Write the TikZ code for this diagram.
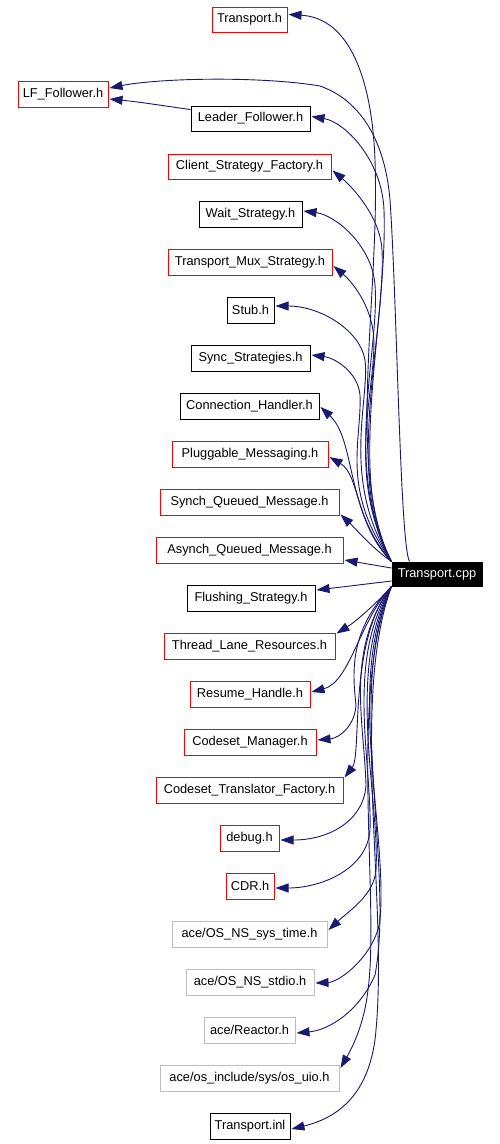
\documentclass[tikz,border=0pt]{standalone}
\usepackage{fontspec}
\setmainfont{Liberation Sans}
\usetikzlibrary{arrows.meta,calc}
\definecolor{edgeblue}{HTML}{191970}
\definecolor{boxred}{HTML}{FF0000}
\definecolor{boxgray}{HTML}{BFBFBF}
\begin{document}
\begin{tikzpicture}[x=1pt,y=-1pt,
  hdr/.style={draw=boxred, line width=1pt, fill=white, inner sep=0pt,
    minimum height=26pt, font=\fontsize{12.8}{14}\selectfont, text=black},
  exthdr/.style={hdr, draw=boxgray},
  plainhdr/.style={hdr, draw=black},
  mainbox/.style={hdr, draw=black, fill=black, text=white, minimum height=24pt},
  lnk/.style={draw=edgeblue, line width=0.9pt, -{Triangle[length=13pt,width=9pt]}}]
\useasboundingbox[fill=white] (0,0) rectangle (499,1144);

\node[hdr, minimum width=75, minimum height=25] (th) at (249.5,19.5) {Transport.h};
\node[hdr, minimum width=90] (lf) at (63,94) {LF\_Follower.h};
\node[plainhdr, minimum width=119, minimum height=25] (ld) at (250.5,118.5) {Leader\_Follower.h};
\node[hdr, minimum width=163, minimum height=25] (csf) at (249.5,166.5) {Client\_Strategy\_Factory.h};
\node[plainhdr, minimum width=103] (ws) at (250.5,214) {Wait\_Strategy.h};
\node[hdr, minimum width=164] (tms) at (250,262) {Transport\_Mux\_Strategy.h};
\node[plainhdr, minimum width=47] (stub) at (250.5,310) {Stub.h};
\node[plainhdr, minimum width=119] (ss) at (250.5,358) {Sync\_Strategies.h};
\node[plainhdr, minimum width=139] (ch) at (249.5,406) {Connection\_Handler.h};
\node[hdr, minimum width=156] (pm) at (250,454) {Pluggable\_Messaging.h};
\node[hdr, minimum width=179] (sqm) at (249.5,502) {Synch\_Queued\_Message.h};
\node[hdr, minimum width=187] (aqm) at (249.5,550) {Asynch\_Queued\_Message.h};
\node[plainhdr, minimum width=128] (fs) at (251,598) {Flushing\_Strategy.h};
\node[hdr, minimum width=171] (tlr) at (249.5,646) {Thread\_Lane\_Resources.h};
\node[hdr, minimum width=120] (rh) at (250,694) {Resume\_Handle.h};
\node[hdr, minimum width=132] (cm) at (250,742) {Codeset\_Manager.h};
\node[hdr, minimum width=187] (ctf) at (249.5,790) {Codeset\_Translator\_Factory.h};
\node[hdr, minimum width=59] (dbg) at (249.5,838) {debug.h};
\node[hdr, minimum width=48] (cdr) at (250,886) {CDR.h};
\node[exthdr, minimum width=155] (ost) at (249.5,934) {ace/OS\_NS\_sys\_time.h};
\node[exthdr, minimum width=128] (stdio) at (250,982) {ace/OS\_NS\_stdio.h};
\node[exthdr, minimum width=91] (reac) at (249.5,1030) {ace/Reactor.h};
\node[exthdr, minimum width=179] (uio) at (249.5,1078) {ace/os\_include/sys/os\_uio.h};
\node[plainhdr, minimum width=80] (inl) at (250,1126) {Transport.inl};
\node[mainbox, minimum width=90] (cpp) at (437,574) {Transport.cpp};

% upper edges
\draw[lnk] (cpp.north west) .. controls (345,470) and (380,300) .. (375,160) .. controls (372,80) and (350,18) .. ($(th.east)+(1,-5)$);
\draw[lnk] ($(cpp.north west)+(18,0)$) .. controls (400,545) and (397,300) .. (390,200) .. controls (385,140) and (360,100) .. (320,86) .. controls (260,76) and (160,78) .. ($(lf.east)+(1,-6)$);
\draw[lnk] ($(ld.west)+(0,-9)$) .. controls (165,106) and (140,102) .. ($(lf.east)+(1,5)$);
\draw[lnk] (cpp.north west) .. controls (345,480) and (388,320) .. (384,210) .. controls (382,160) and (345,122) .. ($(ld.east)+(1,-2)$);
\draw[lnk] (cpp.north west) .. controls (343,480) and (386,330) .. (382,250) .. controls (380,215) and (350,185) .. ($(csf.east)+(1,4)$);
\draw[lnk] (cpp.north west) .. controls (342,470) and (380,350) .. (375,285) .. controls (372,245) and (335,215) .. ($(ws.east)+(1,-3)$);
\draw[lnk] (cpp.north west) .. controls (342,470) and (380,380) .. (373,330) .. controls (368,300) and (350,280) .. ($(tms.east)+(1,4)$);
\draw[lnk] (cpp.north west) .. controls (340,480) and (370,400) .. (365,360) .. controls (360,330) and (320,306) .. ($(stub.east)+(1,-4)$);
\draw[lnk] (cpp.north west) .. controls (340,490) and (362,440) .. (360,395) .. controls (358,372) and (335,358) .. ($(ss.east)+(1,-3)$);
\draw[lnk] (cpp.north west) .. controls (345,510) and (356,440) .. ($(ch.east)+(1,1)$);
\draw[lnk] (cpp.north west) .. controls (355,525) and (360,475) .. ($(pm.east)+(1,3)$);
\draw[lnk] (cpp.north west) .. controls (372,548) and (355,528) .. ($(sqm.south east)+(1,-1)$);
\draw[lnk] ($(cpp.west)+(0,-6)$) -- ($(aqm.east)+(1,10)$);
\draw[lnk] ($(cpp.west)+(0,7)$) -- ($(fs.east)+(1,-8)$);

% lower edges
\draw[lnk] (cpp.south west) .. controls (375,605) and (355,622) .. ($(tlr.north east)+(1,1)$);
\draw[lnk] (cpp.south west) .. controls (360,620) and (350,682) .. ($(rh.east)+(1,-2)$);
\draw[lnk] (cpp.south west) .. controls (350,630) and (352,670) .. (356,705) .. controls (355,725) and (340,738) .. ($(cm.east)+(1,-2)$);
\draw[lnk] (cpp.south west) .. controls (348,640) and (362,755) .. ($(ctf.north east)+(1,1)$);
\draw[lnk] (cpp.south west) .. controls (345,650) and (364,720) .. (366,785) .. controls (364,820) and (330,840) .. ($(dbg.east)+(1,2)$);
\draw[lnk] (cpp.south west) .. controls (345,660) and (372,760) .. (370,830) .. controls (367,870) and (320,888) .. ($(cdr.east)+(1,2)$);
\draw[lnk] (cpp.south west) .. controls (345,670) and (380,800) .. (376,870) .. controls (374,895) and (350,910) .. ($(ost.east)+(1,-4)$);
\draw[lnk] (cpp.south west) .. controls (345,680) and (388,830) .. (380,920) .. controls (375,955) and (340,982) .. ($(stdio.east)+(1,1)$);
\draw[lnk] (cpp.south west) .. controls (345,690) and (395,870) .. (375,975) .. controls (360,1010) and (330,1030) .. ($(reac.east)+(1,3)$);
\draw[lnk] (cpp.south west) .. controls (348,690) and (380,900) .. (368,990) .. controls (364,1025) and (352,1048) .. ($(uio.east)+(1,-10)$);
\draw[lnk] (cpp.south west) .. controls (350,700) and (388,900) .. (376,1030) .. controls (372,1080) and (350,1115) .. ($(inl.east)+(1,3)$);
\end{tikzpicture}
\end{document}
